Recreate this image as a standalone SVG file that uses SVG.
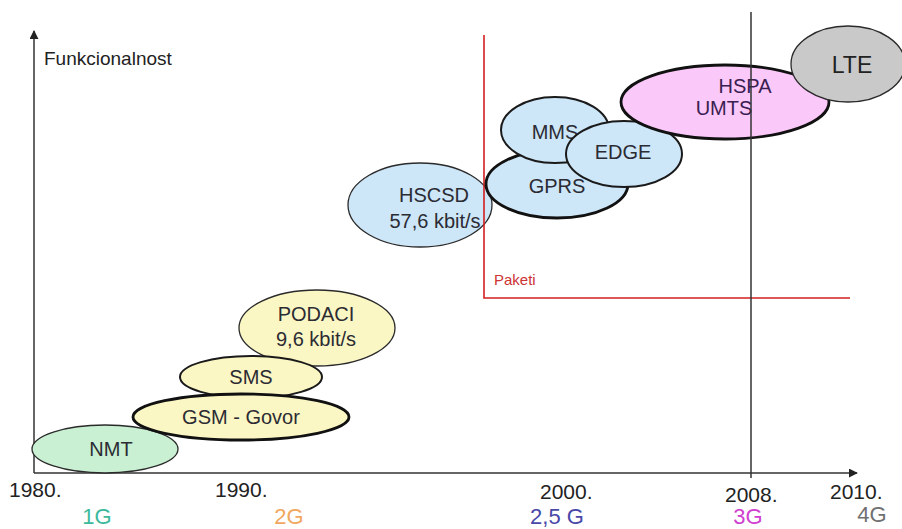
<svg xmlns="http://www.w3.org/2000/svg" width="902" height="529" viewBox="0 0 902 529">
<defs>
<style>
text{font-family:"Liberation Sans",Arial,sans-serif;}
.n{font-size:20px;fill:#2b2b33;text-anchor:middle;}
.yr{font-size:21px;fill:#222;}
.gen{font-size:22px;text-anchor:middle;}
.thin{stroke:#2a2a2a;stroke-width:1.3;}
.mid{stroke:#1a1a1a;stroke-width:2;}
.thick{stroke:#111;stroke-width:2.8;}
.green{fill:#c9f0d2;}
.yel{fill:#fbf7c4;}
.blue{fill:#cde6f8;}
.pink{fill:#fbc8fa;}
.gray{fill:#c9c9c9;}
</style>
<marker id="arr" viewBox="0 0 10 10" refX="9" refY="5" markerWidth="9" markerHeight="9" markerUnits="userSpaceOnUse" orient="auto">
<path d="M0,0 L10,5 L0,10 z" fill="#222"/>
</marker>
</defs>
<rect width="902" height="529" fill="#fff"/>

<g id="axes">
<line x1="34" y1="473" x2="34" y2="31" stroke="#333" stroke-width="1.5" marker-end="url(#arr)"/>
<line x1="34" y1="473" x2="857" y2="473" stroke="#333" stroke-width="1.5" marker-end="url(#arr)"/>
<text x="44" y="65" style="font-size:19px;fill:#222">Funkcionalnost</text>
</g>

<g id="nodes">
<g id="nmt"><ellipse class="green thin" cx="105" cy="449" rx="73" ry="24"/><text class="n" x="111" y="456">NMT</text></g>
<g id="podaci"><ellipse class="yel thin" cx="317" cy="328" rx="78" ry="38"/><text class="n" x="316" y="321">PODACI</text><text class="n" x="316" y="346">9,6 kbit/s</text></g>
<g id="sms"><ellipse class="yel mid" cx="251" cy="377" rx="71" ry="21"/><text class="n" x="251" y="384">SMS</text></g>
<g id="gsm"><ellipse class="yel thick" cx="241" cy="417" rx="108" ry="23"/><text class="n" x="241" y="424">GSM - Govor</text></g>
<g id="hscsd"><ellipse class="blue thin" cx="420" cy="205" rx="72" ry="42"/><text class="n" x="434" y="202">HSCSD</text><text class="n" x="435" y="228">57,6 kbit/s</text></g>
</g>

<g id="paketi">
<polyline points="484,35 484,298 850,298" fill="none" stroke="#d42020" stroke-width="1.6"/>
<text x="494" y="285" style="font-size:15px;fill:#cc3333">Paketi</text>
</g>

<g id="nodes2">
<g id="gprs"><ellipse class="blue thick" cx="557" cy="184" rx="71" ry="34"/><text class="n" x="557" y="193">GPRS</text></g>
<g id="mms"><ellipse class="blue mid" cx="555" cy="130" rx="54" ry="33"/><text class="n" x="555" y="139">MMS</text></g>
<g id="edge"><ellipse class="blue mid" cx="624" cy="154" rx="58" ry="33"/><text class="n" x="623" y="159">EDGE</text></g>
<g id="hspa"><ellipse class="pink thick" cx="725" cy="102" rx="104" ry="37"/><text class="n" x="745" y="93" style="fill:#3a2050">HSPA</text><text class="n" x="724" y="115" style="fill:#3a2050">UMTS</text></g>
</g>

<g id="line2008">
<line x1="751" y1="12" x2="751" y2="478" stroke="#333" stroke-width="1.5"/>
</g>

<g id="lte"><ellipse class="gray thin" cx="848" cy="64" rx="57" ry="38"/><text class="n" x="852" y="73" style="font-size:23px;fill:#222">LTE</text></g>

<g id="labels">
<text class="yr" x="9" y="497">1980.</text>
<text class="yr" x="215" y="497">1990.</text>
<text class="yr" x="540" y="499">2000.</text>
<text class="yr" x="725" y="502">2008.</text>
<text class="yr" x="830" y="499">2010.</text>
<text class="gen" x="97" y="524" style="fill:#3cb99b">1G</text>
<text class="gen" x="289" y="524" style="fill:#f0a860">2G</text>
<text class="gen" x="557" y="524" style="fill:#4848a8">2,5 G</text>
<text class="gen" x="748" y="524" style="fill:#d040d0">3G</text>
<text class="gen" x="872" y="522" style="fill:#707070">4G</text>
</g>
</svg>
